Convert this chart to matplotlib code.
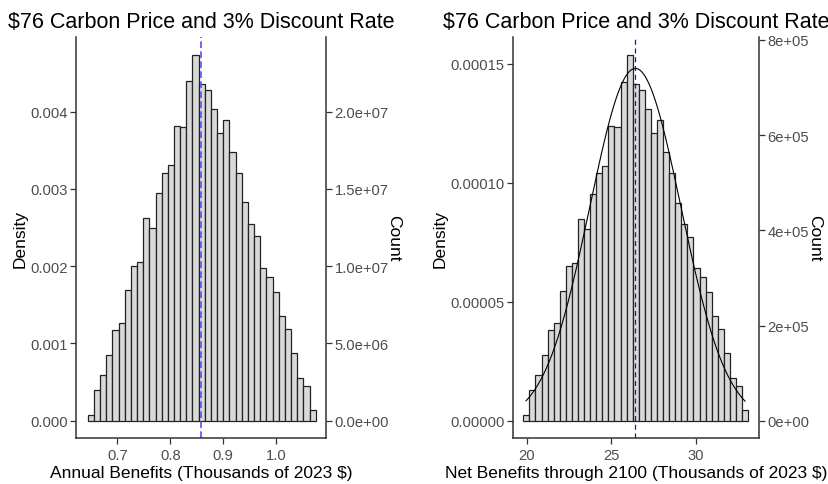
import numpy as np
import matplotlib
matplotlib.use('Agg')
import matplotlib.pyplot as plt
from matplotlib.ticker import FuncFormatter

plt.rcParams['font.family'] = ['Liberation Sans', 'DejaVu Sans']

# annual benefits histogram (density per $, x shown in thousands of $)
annual_start = 0.644
annual_width = 0.01165
annual_density = [
    0.000069, 0.000397, 0.000587, 0.000855, 0.001175, 0.001261, 0.001685,
    0.002004, 0.002048, 0.002618, 0.002488, 0.002942, 0.003205, 0.003305,
    0.003819, 0.003806, 0.004389, 0.004730, 0.004359, 0.004285, 0.004039,
    0.003728, 0.003896, 0.003482, 0.003205, 0.002825, 0.002549, 0.002384,
    0.001978, 0.001857, 0.001667, 0.001361, 0.001184, 0.000881, 0.000557,
    0.000454, 0.000134]
annual_mean = 0.858

# net benefits through 2100
net_start = 19.80
net_width = 0.359
net_density = [
    2.24e-6, 1.290e-5, 1.906e-5, 2.775e-5, 3.813e-5, 4.093e-5, 5.467e-5,
    6.504e-5, 6.644e-5, 8.494e-5, 8.074e-5, 9.546e-5, 1.0401e-4, 1.0723e-4,
    1.2392e-4, 1.2350e-4, 1.4242e-4, 1.5349e-4, 1.4144e-4, 1.3905e-4,
    1.3106e-4, 1.2097e-4, 1.2644e-4, 1.1298e-4, 1.0401e-4, 9.167e-5,
    8.270e-5, 7.738e-5, 6.420e-5, 6.027e-5, 5.411e-5, 4.415e-5, 3.841e-5,
    2.860e-5, 1.808e-5, 1.472e-5, 4.35e-6]
net_mean = 26.42
net_sd = 2.695          # thousands of $
net_curve_range = (19.96, 32.90)

count_per_density = 5e9
title = '$76 Carbon Price and 3% Discount Rate'

tick_col = '#4D4D4D'
line_col = '#333333'
tick_size = 10.6
label_size = 12.5


def style_axes(ax):
    for s in ['top', 'right']:
        ax.spines[s].set_visible(False)
    for s in ['left', 'bottom']:
        ax.spines[s].set_color(line_col)
        ax.spines[s].set_linewidth(1.1)
    ax.tick_params(colors=line_col, labelcolor=tick_col, labelsize=tick_size,
                   length=4, width=0.9, pad=2)
    ax.tick_params(axis='x', pad=3)


def add_count_axis(ax, fmt):
    sec = ax.secondary_yaxis('right', functions=(lambda d: d * count_per_density,
                                                 lambda c: c / count_per_density))
    sec.spines['right'].set_color(line_col)
    sec.spines['right'].set_linewidth(1.1)
    sec.tick_params(colors=line_col, labelcolor=tick_col, labelsize=tick_size,
                    length=4, width=0.9, pad=2)
    sec.yaxis.set_major_formatter(FuncFormatter(fmt))
    sec.set_ylabel('Count', rotation=-90, fontsize=label_size, labelpad=9)
    return sec


def draw_hist(ax, start, width, dens):
    edges = start + width * np.arange(len(dens))
    ax.bar(edges, dens, width=width, align='edge', color='#D9D9D9',
           edgecolor='#222222', linewidth=0.9)


fig = plt.figure(figsize=(8.29, 4.85), dpi=100)

# left panel
ax1 = fig.add_axes([0.0917, 0.0948, 0.3016, 0.8268])
draw_hist(ax1, annual_start, annual_width, annual_density)
ax1.axvline(annual_mean, color='#5050FF', lw=1.2, dashes=(4, 2))
ax1.set_xlim(0.6219, 1.0945)
ax1.set_ylim(-0.000224, 0.004964)
ax1.set_xticks([0.7, 0.8, 0.9, 1.0])
ax1.set_yticks([0, 0.001, 0.002, 0.003, 0.004])
ax1.yaxis.set_major_formatter(FuncFormatter(lambda v, p: f'{v:.3f}'))
style_axes(ax1)
ax1.set_ylabel('Density', fontsize=label_size, labelpad=2)
ax1.set_xlabel('Annual Benefits (Thousands of 2023 $)', fontsize=label_size, labelpad=2)
ax1.set_title(title, fontsize=15.5, pad=7.5)
sec1 = add_count_axis(ax1, lambda v, p: f'{v:.1e}')
sec1.set_yticks([0, 5e6, 1e7, 1.5e7, 2e7])

# right panel
ax2 = fig.add_axes([0.6188, 0.0948, 0.2967, 0.8268])
draw_hist(ax2, net_start, net_width, net_density)
xs = np.linspace(net_curve_range[0], net_curve_range[1], 300)
pdf = np.exp(-0.5 * ((xs - net_mean) / net_sd) ** 2) / (net_sd * 1000 * np.sqrt(2 * np.pi))
ax2.plot(xs, pdf, color='black', lw=0.8)
ax2.axvline(net_mean - 0.01, color='#1010EE', lw=0.9, dashes=(4, 3))
ax2.set_xlim(19.19, 33.72)
ax2.set_ylim(-7.27e-6, 1.6122e-4)
ax2.set_xticks([20, 25, 30])
ax2.set_yticks([0, 0.00005, 0.0001, 0.00015])
ax2.yaxis.set_major_formatter(FuncFormatter(lambda v, p: f'{v:.5f}'))
style_axes(ax2)
ax2.set_ylabel('Density', fontsize=label_size, labelpad=2)
ax2.set_xlabel('Net Benefits through 2100 (Thousands of 2023 $)', fontsize=label_size, labelpad=2)
ax2.set_title(title, fontsize=15.5, pad=7.5)
sec2 = add_count_axis(ax2, lambda v, p: f'{v:.0e}')
sec2.set_yticks([0, 2e5, 4e5, 6e5, 8e5])

fig.savefig('out.png', dpi=100)
